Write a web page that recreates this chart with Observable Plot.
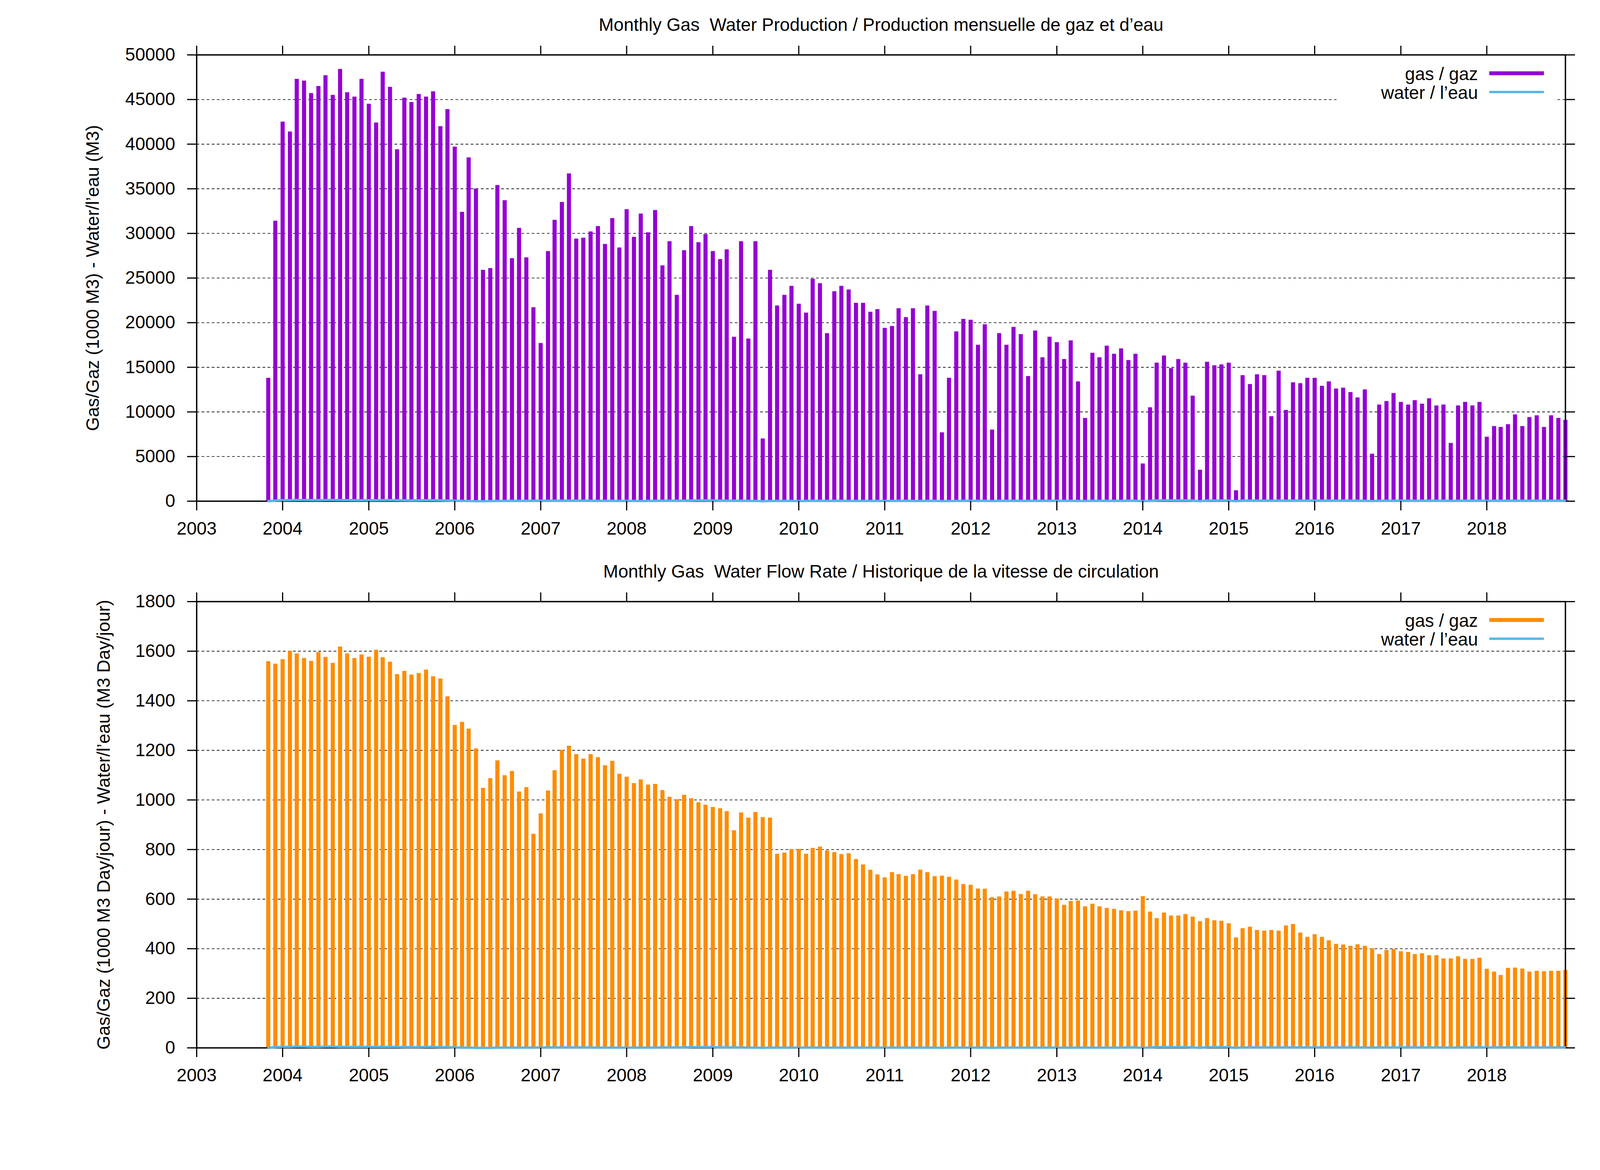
<!DOCTYPE html>
<html>
<head>
<meta charset="utf-8">
<script src="https://cdn.jsdelivr.net/npm/d3@7"></script>
<script src="https://cdn.jsdelivr.net/npm/@observablehq/plot@0.6"></script>
<style>
html, body { margin: 0; padding: 0; background: #fff; }
#chart { width: 4114px; height: 2994px; display: flex; flex-direction: column; background: #fff; }
#chart svg { display: block; }
</style>
</head>
<body>
<div id="chart"></div>
<script>
// ---- Data (monthly, Nov 2003 .. Dec 2018) ----
const firstMonth = [2003, 10];   // Nov 2003 (UTC month index)
const lastMonth = [2018, 11];    // Dec 2018

// Monthly gas production (1000 M3)
const gasProduction = [
  13800, 31400,
  42500, 41400, 47300, 47100, 45700, 46500, 47700, 45500, 48400, 45800, 45300, 47300,
  44500, 42400, 48100, 46400, 39400, 45200, 44700, 45600, 45300, 45900, 42000, 43900,
  39700, 32400, 38500, 35000, 25900, 26100, 35400, 33700, 27200, 30600, 27300, 21700,
  17700, 28000, 31500, 33500, 36700, 29400, 29500, 30200, 30800, 28800, 31700, 28400,
  32700, 29600, 32200, 30100, 32600, 26400, 29100, 23100, 28100, 30800, 29000, 29900,
  28000, 27100, 28200, 18400, 29100, 18200, 29100, 7000, 25900, 21900, 23100, 24100,
  22100, 21100, 24900, 24400, 18800, 23500, 24100, 23700, 22200, 22200, 21200, 21500,
  19400, 19600, 21600, 20600, 21600, 14200, 21900, 21300, 7700, 13800, 19000, 20400,
  20300, 17500, 19800, 8000, 18800, 17500, 19500, 18700, 14000, 19100, 16100, 18400,
  17800, 15900, 18000, 13400, 9300, 16600, 16100, 17400, 16500, 17100, 15800, 16500,
  4200, 10500, 15500, 16300, 14900, 15900, 15500, 11800, 3500, 15600, 15200, 15300,
  15500, 1200, 14100, 13100, 14200, 14100, 9500, 14600, 10200, 13300, 13200, 13800,
  13800, 12900, 13400, 12600, 12700, 12200, 11600, 12500, 5300, 10800, 11200, 12100,
  11100, 10800, 11300, 10900, 11500, 10700, 10800, 6500, 10700, 11100, 10700, 11100,
  7200, 8400, 8300, 8600, 9700, 8400, 9400, 9600, 8300, 9600, 9300, 9100
];

// Monthly water production (M3)
const waterProduction = [
  0, 80,
  110, 120, 130, 130, 120, 120, 130, 130, 120, 120, 110, 110,
  110, 110, 120, 120, 110, 100, 90, 100, 110, 110, 100, 80,
  60, 40, 20, 0, 0, 10, 20, 30, 40, 40, 40, 40,
  50, 60, 60, 60, 70, 70, 60, 50, 40, 40, 40, 30,
  30, 30, 20, 30, 40, 50, 50, 60, 70, 80, 90, 90,
  80, 70, 50, 60, 60, 40, 30, 0, 20, 30, 30, 30,
  20, 30, 50, 40, 30, 40, 40, 30, 30, 30, 30, 30,
  30, 30, 40, 40, 30, 20, 40, 40, 10, 20, 30, 40,
  40, 40, 40, 10, 40, 40, 40, 40, 30, 40, 40, 40,
  40, 40, 40, 30, 20, 40, 40, 40, 40, 40, 50, 50,
  0, 40, 80, 90, 90, 90, 90, 70, 0, 80, 80, 80,
  80, 0, 70, 70, 70, 70, 50, 70, 60, 70, 70, 70,
  70, 70, 70, 70, 70, 70, 60, 60, 20, 60, 60, 60,
  60, 60, 60, 60, 60, 60, 60, 30, 60, 60, 60, 60,
  40, 50, 50, 50, 60, 50, 50, 60, 50, 60, 60, 50
];

// Monthly gas flow rate (1000 M3 Day/jour)
const gasRate = [
  1559, 1549,
  1567, 1601, 1590, 1572, 1560, 1596, 1576, 1552, 1618, 1590, 1572, 1586,
  1577, 1605, 1575, 1557, 1507, 1520, 1505, 1511, 1525, 1498, 1489, 1417,
  1302, 1314, 1287, 1207, 1048, 1087, 1159, 1099, 1116, 1033, 1051, 863,
  945, 1037, 1119, 1202, 1218, 1184, 1166, 1184, 1172, 1139, 1157, 1105,
  1093, 1067, 1082, 1061, 1064, 1039, 1012, 1002, 1020, 1006, 990, 980,
  971, 966, 954, 877, 949, 928, 951, 930, 928, 782, 787, 801,
  802, 782, 806, 811, 796, 789, 781, 784, 761, 739, 718, 699,
  687, 708, 700, 693, 700, 718, 708, 692, 694, 689, 678, 660,
  657, 642, 641, 607, 610, 630, 633, 620, 633, 619, 610, 610,
  602, 576, 592, 594, 570, 581, 570, 564, 560, 554, 551, 553,
  611, 549, 523, 545, 533, 533, 539, 529, 510, 523, 514, 512,
  502, 445, 482, 488, 475, 472, 475, 472, 493, 499, 464, 447,
  458, 447, 433, 419, 416, 411, 417, 411, 401, 378, 394, 398,
  389, 386, 378, 381, 373, 373, 360, 360, 369, 358, 358, 363,
  318, 307, 293, 322, 323, 319, 307, 310, 308, 310, 310, 314
];

// Monthly water flow rate (M3 Day/jour)
const waterRate = [
  0, 3,
  4, 4, 5, 5, 4, 4, 5, 5, 4, 4, 4, 4,
  4, 4, 4, 4, 4, 3, 3, 3, 4, 4, 3, 3,
  2, 1, 1, 0, 0, 0, 1, 1, 1, 1, 1, 1,
  2, 2, 2, 2, 2, 2, 2, 2, 1, 1, 1, 1,
  1, 1, 1, 1, 1, 2, 2, 2, 2, 3, 3, 3,
  3, 2, 2, 2, 2, 1, 1, 0, 1, 1, 1, 1,
  1, 1, 2, 1, 1, 1, 1, 1, 1, 1, 1, 1,
  1, 1, 1, 1, 1, 1, 1, 1, 0, 1, 1, 1,
  1, 1, 1, 0, 1, 1, 1, 1, 1, 1, 1, 1,
  1, 1, 1, 1, 1, 1, 1, 1, 1, 1, 2, 2,
  0, 2, 3, 3, 3, 3, 3, 2, 0, 3, 3, 3,
  3, 0, 2, 2, 2, 2, 2, 2, 2, 2, 2, 2,
  2, 2, 2, 2, 2, 2, 2, 2, 1, 2, 2, 2,
  2, 2, 2, 2, 2, 2, 2, 1, 2, 2, 2, 2,
  2, 2, 2, 2, 2, 2, 2, 2, 2, 2, 2, 2
];

const yearTicks = [2003, 2004, 2005, 2006, 2007, 2008, 2009, 2010, 2011, 2012, 2013, 2014, 2015, 2016, 2017, 2018];
const productionTicks = [0, 5000, 10000, 15000, 20000, 25000, 30000, 35000, 40000, 45000, 50000];
const rateTicks = [0, 200, 400, 600, 800, 1000, 1200, 1400, 1600, 1800];

const titleProduction = "Monthly Gas  Water Production / Production mensuelle de gaz et d\u2019eau";
const titleRate = "Monthly Gas  Water Flow Rate / Historique de la vitesse de circulation";
const ylabelProduction = "Gas/Gaz (1000 M3) - Water/l\u2019eau (M3)";
const ylabelRate = "Gas/Gaz (1000 M3 Day/jour) - Water/l\u2019eau (M3 Day/jour)";
const legendLabels = ["gas / gaz", "water / l\u2019eau"];

const purple = "#9400d3";
const orange = "#ff8c00";
const blue = "#56b4e9";

// ---- Build ----
const months = d3.utcMonth.range(
  new Date(Date.UTC(firstMonth[0], firstMonth[1], 1)),
  d3.utcMonth.offset(new Date(Date.UTC(lastMonth[0], lastMonth[1], 1)), 1)
);
const xTickDates = yearTicks.map(y => new Date(Date.UTC(y, 0, 1)));
const xDomain = [new Date(Date.UTC(2003, 0, 1)), new Date(Date.UTC(lastMonth[0], lastMonth[1], 1))];

function panel({height, marginTop, marginBottom, yDomain, yTicks, title, ylabel, ylabelDx, gas, water, gasColor}) {
  const rows = months.map((d, i) => ({date: d, gas: gas[i], water: water[i]}));
  const plotH = height - marginTop - marginBottom;
  return Plot.plot({
    width: 4114,
    height,
    marginTop,
    marginBottom,
    marginLeft: 503,
    marginRight: 107,
    style: {
      fontFamily: "'Liberation Sans', Arial, Helvetica, sans-serif",
      fontSize: "46px",
      background: "#fff",
      color: "#000",
      overflow: "visible"
    },
    x: {type: "utc", domain: xDomain, label: null},
    y: {domain: yDomain, label: null},
    marks: [
      Plot.gridY(yTicks, {stroke: "#000", strokeOpacity: 1, strokeWidth: 1.6, strokeDasharray: "7,6"}),
      // legend background box
      Plot.frame({fill: "#fff", stroke: "none", insetLeft: 2918, insetRight: 27, insetTop: 21, insetBottom: plotH - 121}),
      Plot.ruleX(rows, {x: "date", y1: 0, y2: "gas", stroke: gasColor, strokeWidth: 10.5}),
      Plot.frame({stroke: "#000", strokeWidth: 3.5}),
      Plot.line(rows, {x: "date", y: "water", stroke: blue, strokeWidth: 6}),
      Plot.axisY({anchor: "left", ticks: yTicks, tickSize: 24, tickPadding: 31, strokeWidth: 3, label: null, tickFormat: d => String(d)}),
      Plot.axisY({anchor: "right", ticks: yTicks, tickSize: 24, strokeWidth: 3, label: null, tickFormat: () => ""}),
      Plot.axisX({anchor: "bottom", ticks: xTickDates, tickSize: 24, tickPadding: 29, strokeWidth: 3, label: null, tickFormat: d3.utcFormat("%Y")}),
      Plot.axisX({anchor: "top", ticks: xTickDates, tickSize: 24, strokeWidth: 3, label: null, tickFormat: () => ""}),
      // legend samples
      Plot.frame({fill: gasColor, stroke: "none", insetLeft: 3309, insetRight: 55, insetTop: 42, insetBottom: plotH - 52}),
      Plot.frame({fill: blue, stroke: "none", insetLeft: 3309, insetRight: 55, insetTop: 92, insetBottom: plotH - 98}),
      Plot.text([legendLabels[0]], {text: d => d, frameAnchor: "top-right", dx: -224, dy: 64, textAnchor: "end", lineAnchor: "bottom", fill: "#000"}),
      Plot.text([legendLabels[1]], {text: d => d, frameAnchor: "top-right", dx: -224, dy: 112, textAnchor: "end", lineAnchor: "bottom", fill: "#000"}),
      // title
      Plot.text([title], {text: d => d, frameAnchor: "top", dy: -62, lineAnchor: "bottom", textAnchor: "middle", fill: "#000"}),
      // y label
      Plot.text([ylabel], {text: d => d, frameAnchor: "left", dx: ylabelDx, rotate: -90, lineAnchor: "bottom", textAnchor: "middle", fill: "#000"})
    ]
  });
}

const productionChart = panel({
  height: 1440, marginTop: 140, marginBottom: 158,
  yDomain: [0, 50000], yTicks: productionTicks,
  title: titleProduction, ylabel: ylabelProduction, ylabelDx: -251,
  gas: gasProduction, water: waterProduction, gasColor: purple
});
const rateChart = panel({
  height: 1554, marginTop: 99, marginBottom: 313,
  yDomain: [0, 1800], yTicks: rateTicks,
  title: titleRate, ylabel: ylabelRate, ylabelDx: -223,
  gas: gasRate, water: waterRate, gasColor: orange
});
const chartEl = document.getElementById("chart");
chartEl.appendChild(productionChart);
chartEl.appendChild(rateChart);
</script>
</body>
</html>
